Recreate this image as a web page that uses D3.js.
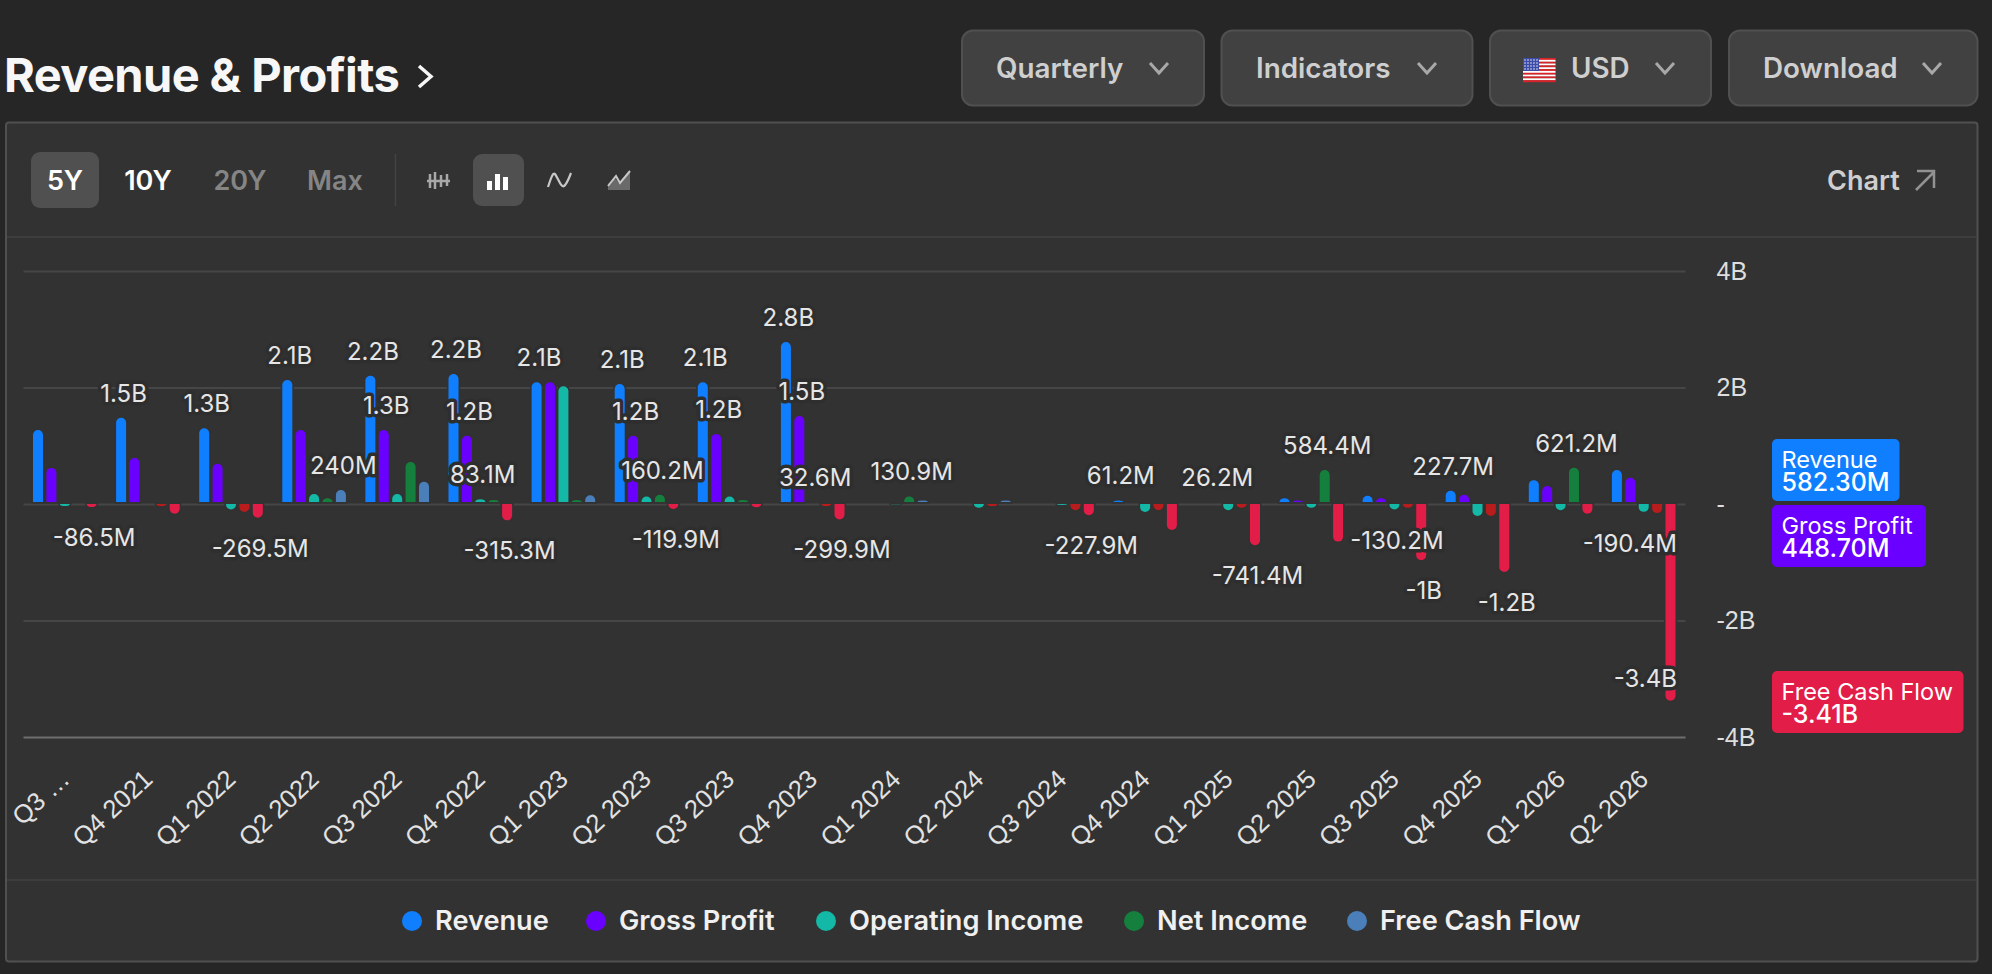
<!DOCTYPE html>
<html>
<head>
<meta charset="utf-8">
<title>Revenue & Profits</title>
<script src="https://cdn.jsdelivr.net/npm/d3@7"></script>
<style>
	html, body { margin: 0; padding: 0; background: #262626; overflow: hidden; }
	svg { display: block; font-family: Inter, "Noto Sans", sans-serif; }
</style>
</head>
<body>
<svg id="chart" width="1992" height="974"></svg>
<script>
var quarters = ["Q3 …", "Q4 2021", "Q1 2022", "Q2 2022", "Q3 2022", "Q4 2022", "Q1 2023", "Q2 2023", "Q3 2023", "Q4 2023",
	"Q1 2024", "Q2 2024", "Q3 2024", "Q4 2024", "Q1 2025", "Q2 2025", "Q3 2025", "Q4 2025", "Q1 2026", "Q2 2026"];

// values in millions
var revenue = [1270, 1480, 1300, 2130, 2200, 2230, 2090, 2060, 2090, 2780, 0, 0, 0, 61.2, 0, 100, 140, 227.7, 410, 582.3];
var grossProfit = [620, 790, 690, 1270, 1270, 1170, 2090, 1170, 1200, 1510, 0, 0, 0, 0, 26.2, 60, 100, 160, 310, 448.7];
var operatingIncome = [-70, -15, -130, 170, 170, 83.1, 2020, 130, 130, 32.6, -40, -100, -50, -170, -140, -100, -130.2, -240, -140, -170];
var netIncome = [-15, -70, -170, 100, 720, 70, 70, 160.2, 70, -70, 130.9, -70, -140, -140, -100, 584.4, -100, -240, 621.2, -190.4];
var freeCashFlow = [-86.5, -200, -269.5, 240, 380, -315.3, 150, -119.9, -90, -299.9, 60, 60, -227.9, -480, -741.4, -680, -1000, -1200, -200, -3410];

// which quarters carry a value label, per series
var revenueLabels = [1, 2, 3, 4, 5, 6, 7, 8, 9, 13, 17];
var grossProfitLabels = [4, 5, 7, 8, 9, 14];
var operatingIncomeLabels = [5, 9, 16];
var netIncomeLabels = [7, 10, 15, 18, 19];
var freeCashFlowLabels = [0, 2, 3, 5, 7, 9, 12, 14, 16, 17, 19];

var yTicks = [4000, 2000, 0, -2000, -4000];
var yTickLabels = ["4B", "2B", "-", "-2B", "-4B"];

var seriesNames = ["Revenue", "Gross Profit", "Operating Income", "Net Income", "Free Cash Flow"];
var seriesColors = ["#0f7fff", "#6a00ff", "#14b8a6", "#15803d", "#4a7fba"];
var negativeColors = ["#0f7fff", "#6a00ff", "#14b8a6", "#b91c1c", "#e11d48"];
var seriesValues = [revenue, grossProfit, operatingIncome, netIncome, freeCashFlow];
var seriesLabels = [revenueLabels, grossProfitLabels, operatingIncomeLabels, netIncomeLabels, freeCashFlowLabels];

var tagNames = ["Revenue", "Gross Profit", "Free Cash Flow"];
var tagValues = ["582.30M", "448.70M", "-3.41B"];
var tagColors = ["#0f7fff", "#6a00ff", "#e11d48"];
var tagTops = [439, 505, 671];
var tagWidths = [127.5, 154, 191.5];

var buttonNames = ["Quarterly", "Indicators", "USD", "Download"];
var rangeNames = ["5Y", "10Y", "20Y", "Max"];

var panelBg = "#323232";
var svg = d3.select("#chart");

// page furniture
svg.append("rect").attr("x", 6).attr("y", 122.5).attr("width", 1971.5).attr("height", 839)
	.attr("rx", 3).attr("fill", panelBg).attr("stroke", "#505050").attr("stroke-width", 2);
svg.append("line").attr("x1", 7).attr("x2", 1977).attr("y1", 237).attr("y2", 237).attr("stroke", "#3d3d3d").attr("stroke-width", 2);
svg.append("line").attr("x1", 7).attr("x2", 1977).attr("y1", 880).attr("y2", 880).attr("stroke", "#3d3d3d").attr("stroke-width", 2);

svg.append("text").attr("x", 4).attr("y", 92).attr("fill", "#f7f7f7")
	.style("font-size", "47px").style("font-weight", 700).style("letter-spacing", "-0.6px")
	.text("Revenue & Profits");
svg.append("path").attr("d", "M419,66L431,76.5L419,87").attr("fill", "none")
	.attr("stroke", "#f7f7f7").attr("stroke-width", 3.5);

var buttonX = [962, 1221.5, 1490, 1729];
var buttonW = [242, 251, 221, 248.5];
var buttonTextX = [996, 1256, 1571, 1763];
var buttonChevron = [1159, 1427, 1665, 1932];
buttonNames.forEach(function(name, i) {
	svg.append("rect").attr("x", buttonX[i]).attr("y", 30.5).attr("width", buttonW[i]).attr("height", 75)
		.attr("rx", 11).attr("fill", "#414141").attr("stroke", "#505050").attr("stroke-width", 2);
	svg.append("text").attr("x", buttonTextX[i]).attr("y", 77.5).attr("fill", "#cfcfcf")
		.style("font-size", "27.8px").style("font-weight", 600).text(name);
	var c = buttonChevron[i];
	svg.append("path").attr("d", "M" + (c - 9) + ",63L" + c + ",73L" + (c + 9) + ",63").attr("fill", "none")
		.attr("stroke", "#a8a8a8").attr("stroke-width", 3);
});

// flag on the USD button
var flag = svg.append("g").attr("transform", "translate(1523,58)");
d3.range(13).forEach(function(i) {
	flag.append("rect").attr("y", i * 24 / 13).attr("width", 32.5).attr("height", 24 / 13 + 0.2)
		.attr("fill", i % 2 ? "#ffffff" : "#d8232a");
});
flag.append("rect").attr("width", 16).attr("height", 13).attr("fill", "#3c4aa8");
d3.range(4).forEach(function(r) {
	d3.range(5).forEach(function(c) {
		flag.append("circle").attr("cx", 2 + c * 3).attr("cy", 2 + r * 3).attr("r", 0.8).attr("fill", "#e8e8f4");
	});
});

// toolbar
svg.append("rect").attr("x", 31).attr("y", 152).attr("width", 68).attr("height", 56).attr("rx", 9).attr("fill", "#505050");
svg.append("rect").attr("x", 473).attr("y", 154).attr("width", 51).attr("height", 52).attr("rx", 9).attr("fill", "#505050");
svg.append("line").attr("x1", 395.5).attr("x2", 395.5).attr("y1", 154).attr("y2", 206).attr("stroke", "#434343").attr("stroke-width", 1.5);
var rangeX = [65, 148, 240, 335];
var rangeColors = ["#ffffff", "#ffffff", "#858585", "#858585"];
rangeNames.forEach(function(name, i) {
	svg.append("text").attr("x", rangeX[i]).attr("y", 190).attr("text-anchor", "middle")
		.attr("fill", rangeColors[i]).style("font-size", "27px").style("font-weight", 600).text(name);
});
svg.append("path").attr("d", "M427,181H450M430,174V188M435,172V189M441,175V187M447,174V186")
	.attr("fill", "none").attr("stroke", "#a8a8a8").attr("stroke-width", 2.5);
svg.append("path").attr("d", "M487,181h5v9h-5zM495,174h5v16h-5zM503,177h5v13h-5z").attr("fill", "#ffffff");
svg.append("path").attr("d", "M548,187C551,178 553,172 555,174C558,178 561,188 564,186C567,184 569,178 571,173")
	.attr("fill", "none").attr("stroke", "#c8c8c8").attr("stroke-width", 2.2);
svg.append("path").attr("d", "M608,190V184L615,178L619,183L630,172V190Z").attr("fill", "#6a6a6a");
svg.append("path").attr("d", "M608,186L616,176L620,183L630,171").attr("fill", "none").attr("stroke", "#c8c8c8").attr("stroke-width", 2);

svg.append("text").attr("x", 1827).attr("y", 190).attr("fill", "#cfcfcf")
	.style("font-size", "27px").style("font-weight", 600).text("Chart");
svg.append("path").attr("d", "M1916,190L1934,172M1917,171H1934V188").attr("fill", "none")
	.attr("stroke", "#929292").attr("stroke-width", 2.5);

// scales
var x = d3.scaleBand().domain(quarters).range([23.5, 1685.5]);
var inner = d3.scaleBand().domain(seriesNames).range([9.5, 73.1]).paddingInner(0.254);
var y = d3.scaleLinear().domain([-4000, 4000]).range([737, 271]);

// y axis, its tick lines are the grid
var yAxis = d3.axisRight(y).tickValues(yTicks)
	.tickFormat(function(d, i) { return yTickLabels[i]; })
	.tickSize(-(1685.5 - 23.5)).tickPadding(31);
var yG = svg.append("g").attr("transform", "translate(1685.5,0)").call(yAxis);
yG.select(".domain").remove();
yG.selectAll("line").attr("stroke", function(d) { return d === -4000 ? "#6e6e6e" : "#464646"; }).attr("stroke-width", 2);
yG.selectAll("text").attr("fill", "#dedede").style("font-size", "25px").style("font-family", "inherit");

// x axis
var xAxis = d3.axisBottom(x).tickSize(0).tickPadding(0);
var xG = svg.append("g").attr("transform", "translate(0,737)").call(xAxis);
xG.select(".domain").remove();
xG.selectAll("text")
	.attr("text-anchor", "end").attr("fill", "#e2e2e2")
	.attr("transform", "translate(6,44) rotate(-43)")
	.attr("dy", 0).attr("y", 0)
	.style("font-size", "25.5px").style("font-family", "inherit");

// rounded cap on the far end of the bar, flattened when the bar is shorter than the radius
function barPath(x0, w, base, tip) {
	var h = Math.abs(tip - base), dir = tip < base ? -1 : 1;
	var rx = w / 2, ry = Math.min(rx, h);
	var sweep = dir < 0 ? 1 : 0;
	return "M" + x0 + "," + base + "V" + (tip - dir * ry)
		+ "A" + rx + "," + ry + " 0 0 " + sweep + " " + (x0 + w) + "," + (tip - dir * ry)
		+ "V" + base + "Z";
}

var zero = y(0);
var labelRows = [];
seriesNames.forEach(function(name, s) {
	var rows = quarters.map(function(q, i) {
		return { quarter: q, i: i, v: seriesValues[s][i], s: s };
	});
	var base = function(d) { return d.v > 0 ? zero - 2 : zero; };
	var tip = function(d) { return d.v > 0 ? y(d.v) : y(d.v) - 2; };
	svg.append("g").selectAll("path")
		.data(rows.filter(function(d) { return d.v > 0 ? tip(d) < base(d) : tip(d) > base(d); }))
		.enter().append("path")
		.attr("d", function(d) { return barPath(x(d.quarter) + inner(name), inner.bandwidth(), base(d), tip(d)); })
		.attr("fill", function(d) { return d.v > 0 ? seriesColors[s] : negativeColors[s]; })
		.attr("stroke", panelBg).attr("stroke-width", 3.4)
		.style("paint-order", "stroke");
	seriesLabels[s].forEach(function(i) { labelRows.push(rows[i]); });
});

// value labels
function fmt(v) {
	var a = Math.abs(v), sign = v < 0 ? "-" : "";
	if (a >= 1000) return sign + (Math.round(a / 100) / 10) + "B";
	return sign + (Math.round(a * 10) / 10) + "M";
}
var labelMaxRight = 1677, labelMaxY = 687;
svg.append("g").selectAll("text").data(labelRows).enter().append("text")
	.text(function(d) { return fmt(d.v); })
	.attr("text-anchor", "middle")
	.attr("fill", "#e6e6e6").style("font-size", "24px")
	.attr("stroke", "#2e2e2e").attr("stroke-width", 7).attr("stroke-linejoin", "round")
	.style("paint-order", "stroke")
	.attr("y", function(d) { return Math.min(d.v > 0 ? y(d.v) - 16 : y(d.v) + 37, labelMaxY); })
	.attr("x", function(d) {
		var cx = x(d.quarter) + inner(seriesNames[d.s]) + inner.bandwidth() / 2 + 2.5;
		var half = this.getComputedTextLength() / 2;
		return Math.min(cx, labelMaxRight - half);
	});

// last value tags
tagNames.forEach(function(name, i) {
	svg.append("rect").attr("x", 1772).attr("y", tagTops[i]).attr("width", tagWidths[i]).attr("height", 62)
		.attr("rx", 5).attr("fill", tagColors[i]);
	svg.append("text").attr("x", 1781.5).attr("y", tagTops[i] + 29).attr("fill", "#ffffff")
		.style("font-size", "23.5px").text(name);
	svg.append("text").attr("x", 1781.5).attr("y", tagTops[i] + 52).attr("fill", "#ffffff")
		.style("font-size", "25px").style("font-weight", 500).text(tagValues[i]);
});

// legend
var legendDots = [412, 596, 826, 1134, 1357];
seriesNames.forEach(function(name, i) {
	svg.append("circle").attr("cx", legendDots[i]).attr("cy", 921).attr("r", 10).attr("fill", seriesColors[i]);
	svg.append("text").attr("x", legendDots[i] + 23).attr("y", 930).attr("fill", "#f0f0f0")
		.style("font-size", "27.2px").style("font-weight", 600).text(name);
});
</script>
</body>
</html>
